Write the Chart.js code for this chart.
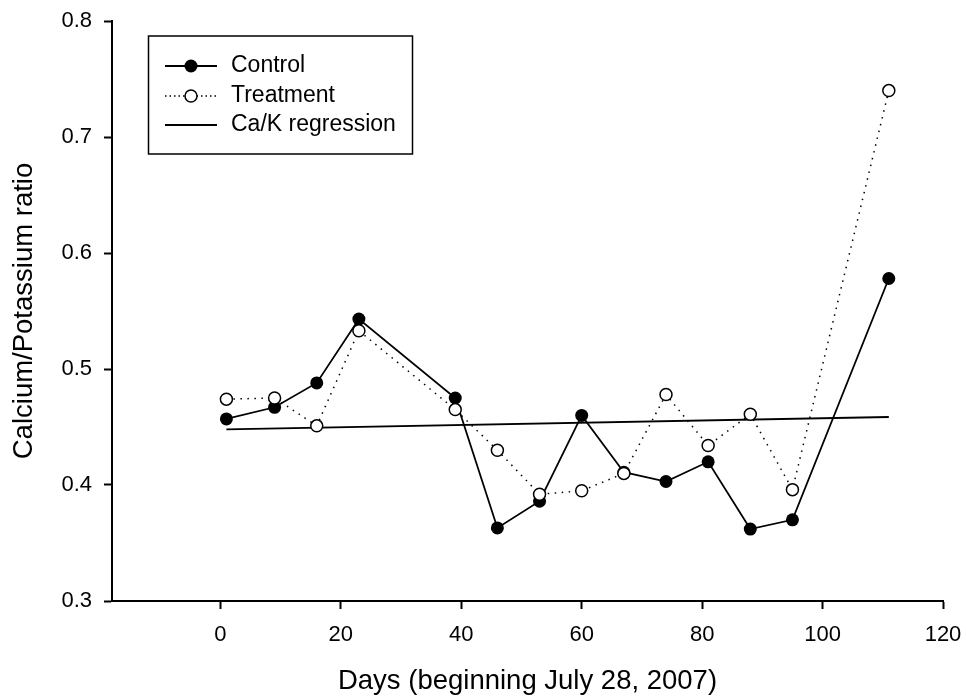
<!DOCTYPE html>
<html lang="en">
<head>
    <meta charset="UTF-8">
    <title>Calcium/Potassium ratio</title>
    <script src="https://cdn.jsdelivr.net/npm/chart.js"></script>
    <style>
        body {
            margin: 0;
            background: #fff;
        }
        .chart-container {
            width: 966px;
            height: 698px;
            position: relative;
        }
    </style>
</head>
<body>
    <div class="chart-container">
        <canvas id="caChart"></canvas>
    </div>

    <script>
        // Sampling days and measured ratios
        const days = [1, 9, 16, 23, 39, 46, 53, 60, 67, 74, 81, 88, 95, 111];
        const control = [0.457, 0.467, 0.488, 0.543, 0.475, 0.363, 0.386, 0.460, 0.411, 0.403, 0.420, 0.362, 0.370, 0.578];
        const treatment = [0.474, 0.475, 0.451, 0.533, 0.465, 0.430, 0.392, 0.395, 0.410, 0.478, 0.434, 0.461, 0.396, 0.740];

        // Regression line end points
        const regressionDays = [1, 111];
        const regressionValues = [0.448, 0.4586];

        // Axis ticks
        const xTicks = [0, 20, 40, 60, 80, 100, 120];
        const yTicks = [0.3, 0.4, 0.5, 0.6, 0.7, 0.8];

        const legendLabels = ['Control', 'Treatment', 'Ca/K regression'];

        const FONT = "'Liberation Sans', Arial, sans-serif";

        function toPoints(xs, ys) {
            return xs.map((x, i) => ({ x: x, y: ys[i] }));
        }

        // Legend box drawn inside the plot, like the original figure
        const boxLegend = {
            id: 'boxLegend',
            afterDraw(chart) {
                const ctx = chart.ctx;
                ctx.save();
                ctx.strokeStyle = '#000';
                ctx.lineWidth = 1.5;
                ctx.strokeRect(148.5, 36, 264, 118);

                const rows = [66, 96, 125];
                const x0 = 165, x1 = 217, xm = 191;

                // Control
                ctx.setLineDash([]);
                ctx.lineWidth = 1.8;
                ctx.beginPath();
                ctx.moveTo(x0, rows[0]);
                ctx.lineTo(x1, rows[0]);
                ctx.stroke();
                ctx.fillStyle = '#000';
                ctx.beginPath();
                ctx.arc(xm, rows[0], 6.5, 0, Math.PI * 2);
                ctx.fill();

                // Treatment
                ctx.lineWidth = 1.5;
                ctx.setLineDash([1.5, 3]);
                ctx.beginPath();
                ctx.moveTo(x0, rows[1]);
                ctx.lineTo(x1, rows[1]);
                ctx.stroke();
                ctx.setLineDash([]);
                ctx.fillStyle = '#fff';
                ctx.lineWidth = 1.5;
                ctx.beginPath();
                ctx.arc(xm, rows[1], 6, 0, Math.PI * 2);
                ctx.fill();
                ctx.stroke();

                // Regression
                ctx.lineWidth = 1.8;
                ctx.beginPath();
                ctx.moveTo(x0, rows[2]);
                ctx.lineTo(x1, rows[2]);
                ctx.stroke();

                ctx.fillStyle = '#000';
                ctx.font = '23px ' + FONT;
                ctx.textBaseline = 'middle';
                ctx.textAlign = 'left';
                legendLabels.forEach((label, i) => {
                    ctx.fillText(label, 231, rows[i]);
                });
                ctx.restore();
            }
        };

        const ctx = document.getElementById('caChart').getContext('2d');

        new Chart(ctx, {
            type: 'scatter',
            data: {
                datasets: [
                    {
                        label: 'Treatment',
                        data: toPoints(days, treatment),
                        showLine: true,
                        borderColor: '#000',
                        borderWidth: 1.5,
                        borderDash: [1.5, 5.5],
                        pointRadius: 6,
                        pointBorderWidth: 1.5,
                        pointBorderColor: '#000',
                        pointBackgroundColor: '#fff',
                        order: 0
                    },
                    {
                        label: 'Control',
                        data: toPoints(days, control),
                        showLine: true,
                        borderColor: '#000',
                        borderWidth: 1.8,
                        pointRadius: 6.5,
                        pointBorderWidth: 0,
                        pointBackgroundColor: '#000',
                        order: 1
                    },
                    {
                        label: 'Ca/K regression',
                        data: toPoints(regressionDays, regressionValues),
                        showLine: true,
                        borderColor: '#000',
                        borderWidth: 1.8,
                        pointRadius: 0,
                        order: 2
                    }
                ]
            },
            options: {
                responsive: true,
                maintainAspectRatio: false,
                animation: false,
                layout: {
                    padding: { left: 0, top: 21, right: 23, bottom: 0 }
                },
                plugins: {
                    legend: { display: false },
                    tooltip: { enabled: false }
                },
                scales: {
                    x: {
                        type: 'linear',
                        min: -18,
                        max: 120,
                        afterBuildTicks(scale) {
                            scale.ticks = xTicks.map(v => ({ value: v }));
                        },
                        afterFit(scale) {
                            // fixed plot box, no extra room for label overhang
                            scale.height = 97;
                            scale.paddingLeft = 0;
                            scale.paddingRight = 0;
                        },
                        grid: {
                            drawOnChartArea: false,
                            drawTicks: true,
                            tickLength: 8,
                            tickWidth: 2,
                            tickColor: '#000'
                        },
                        border: { color: '#000', width: 2 },
                        ticks: {
                            color: '#000',
                            padding: 13,
                            maxRotation: 0,
                            font: { family: FONT, size: 22 }
                        },
                        title: {
                            display: true,
                            text: 'Days (beginning July 28, 2007)',
                            color: '#000',
                            padding: { top: 0, bottom: 0 },
                            font: { family: FONT, size: 27.5 }
                        }
                    },
                    y: {
                        type: 'linear',
                        min: 0.3,
                        max: 0.8,
                        afterBuildTicks(scale) {
                            scale.ticks = yTicks.map(v => ({ value: v }));
                        },
                        afterFit(scale) {
                            scale.width = 112;
                            scale.paddingTop = 0;
                            scale.paddingBottom = 0;
                        },
                        grid: {
                            drawOnChartArea: false,
                            drawTicks: true,
                            tickLength: 8,
                            tickWidth: 2,
                            tickColor: '#000'
                        },
                        border: { color: '#000', width: 2 },
                        ticks: {
                            color: '#000',
                            padding: 12,
                            font: { family: FONT, size: 22 },
                            callback: v => v.toFixed(1)
                        },
                        title: {
                            display: true,
                            text: 'Calcium/Potassium ratio',
                            color: '#000',
                            padding: { top: 8, bottom: 0 },
                            font: { family: FONT, size: 27.5 }
                        }
                    }
                }
            },
            plugins: [boxLegend]
        });
    </script>
</body>
</html>
